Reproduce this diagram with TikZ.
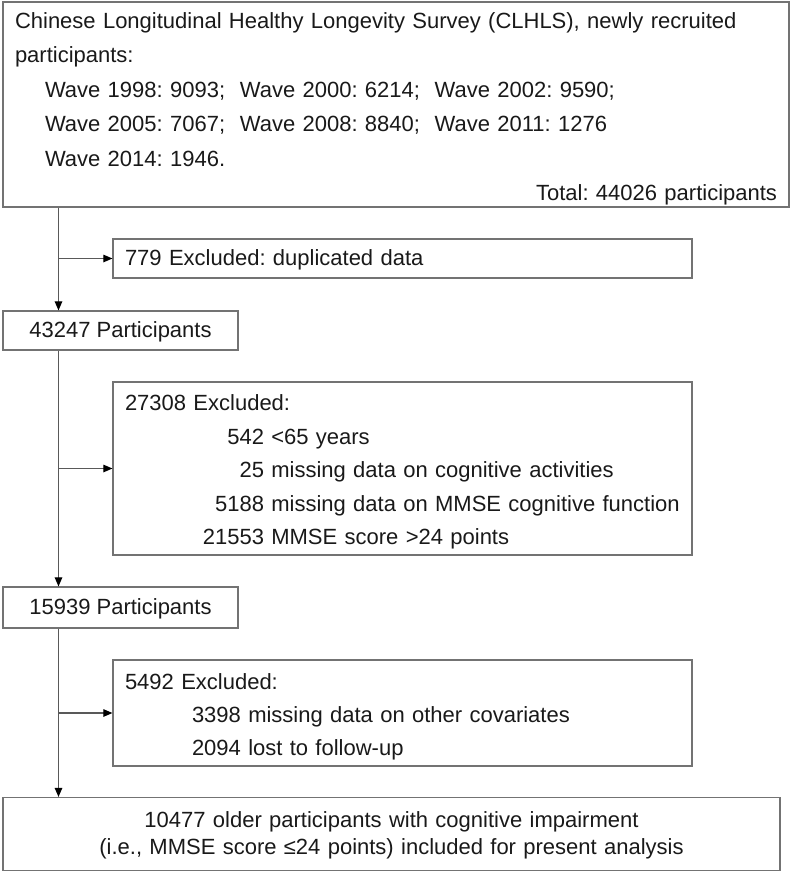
\documentclass[tikz,border=0pt]{standalone}
\usepackage{fontspec}
\setmainfont{Liberation Sans}
\usetikzlibrary{arrows.meta}
\newcommand{\exnum}[2]{\makebox[139pt][r]{#1} #2}
\frenchspacing

\begin{document}
\begin{tikzpicture}[x=1pt, y=-1pt,
    every node/.style={font=\fontsize{22}{34}\selectfont, text=black!90},
    box/.style={rectangle, draw=black!55, line width=1.2pt, inner ysep=0pt, inner xsep=12pt,
                execute at begin node=\strut},
    ptr/.style={-{Triangle[length=9pt,width=7.5pt,color=black]}, line width=1.1pt, draw=black!65}
]
    \useasboundingbox (0,0) rectangle (792,875);
    \node[box, text width=762, minimum height=205, align=left,
          font=\fontsize{22}{34.5}\selectfont] (src) at (396,104.5)
        {Chinese Longitudinal Healthy Longevity Survey (CLHLS), newly recruited participants:\\
         \hspace*{30pt}Wave 1998: 9093;\ \ Wave 2000: 6214;\ \ Wave 2002: 9590;\\
         \hspace*{30pt}Wave 2005: 7067;\ \ Wave 2008: 8840;\ \ Wave 2011: 1276\\
         \hspace*{30pt}Wave 2014: 1946.\\
         \hfill Total: 44026 participants};
    \node[box, text width=555, minimum height=39, align=left] (ex1) at (402.5,258.5)
        {779 Excluded: duplicated data};
    \node[box, minimum width=235, minimum height=39] (n1) at (120.5,330.5) {43247 Participants};
    \node[box, text width=555, minimum height=173, align=left,
          font=\fontsize{22}{33.5}\selectfont] (ex2) at (402.5,468.5)
        {27308 Excluded:\\
         \exnum{542}{<65 years}\\
         \exnum{25}{missing data on cognitive activities}\\
         \exnum{5188}{missing data on MMSE cognitive function}\\
         \exnum{21553}{MMSE score >24 points}};
    \node[box, minimum width=235, minimum height=41] (n2) at (120.5,607.5) {15939 Participants};
    \node[box, text width=555, minimum height=106, align=left,
          font=\fontsize{22}{33}\selectfont] (ex3) at (402.5,713)
        {5492 Excluded:\\
         \hspace*{67pt}3398 missing data on other covariates\\
         \hspace*{67pt}2094 lost to follow-up};
    \node[box, text width=753, minimum height=73, align=center,
          font=\fontsize{22}{27}\selectfont] (fin) at (391.5,834)
        {10477 older participants with cognitive impairment\\
         (i.e., MMSE score ≤24 points) included for present analysis};

    % spine and side arrows
    \coordinate (spine) at (58.5,0);
    \draw[ptr] (src.south -| spine) -- (n1.north -| spine);
    \draw[ptr] (ex1.west -| spine) -- (ex1.west);
    \draw[ptr] (n1.south -| spine) -- (n2.north -| spine);
    \draw[ptr] (ex2.west -| spine) -- (ex2.west);
    \draw[ptr] (n2.south -| spine) -- (fin.north -| spine);
    \draw[ptr] (ex3.west -| spine) -- (ex3.west);
\end{tikzpicture}
\end{document}
